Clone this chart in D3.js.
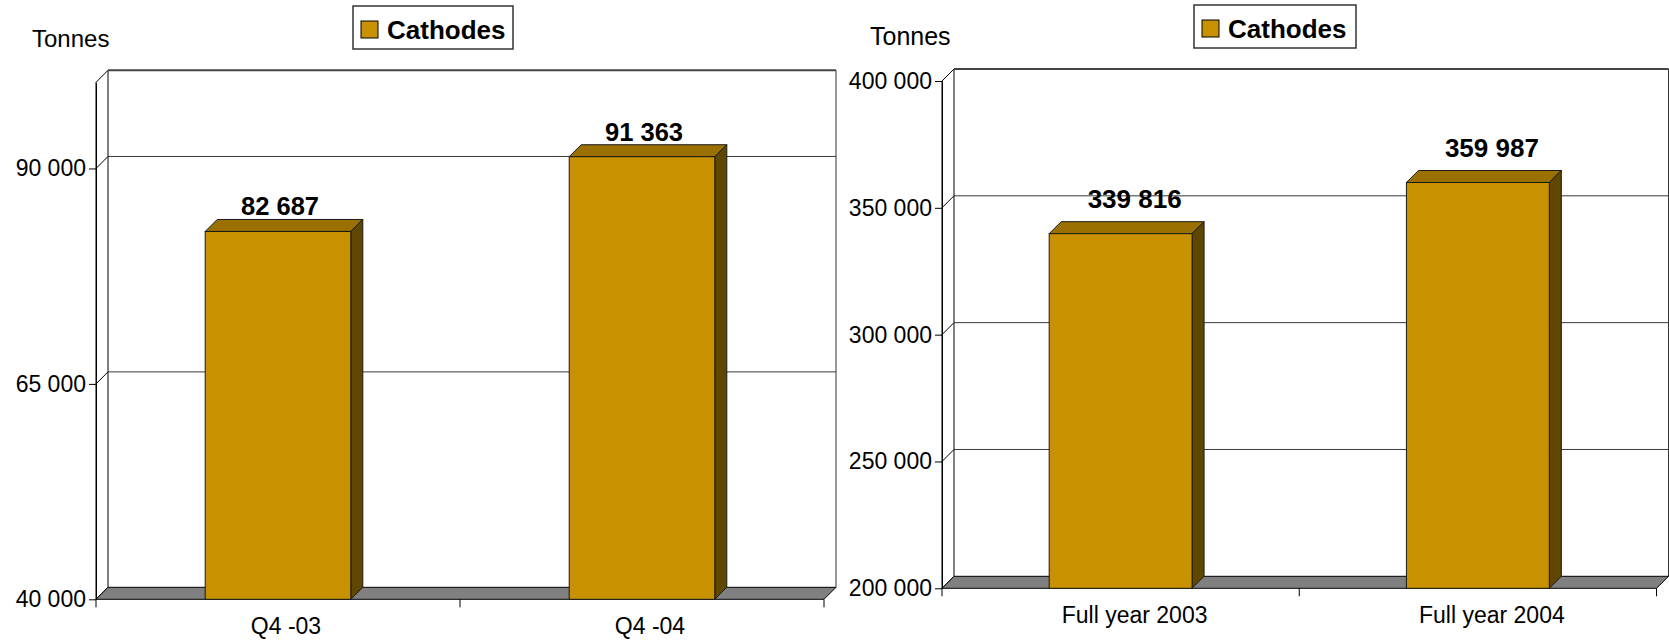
<!DOCTYPE html>
<html>
<head>
<meta charset="utf-8">
<script src="https://cdn.jsdelivr.net/npm/d3@7"></script>
<style>
  body { margin: 0; background: #fff; }
  text { font-family: Arial, "Liberation Sans", sans-serif; }
</style>
</head>
<body>
<div id="chart"></div>
<script>
// Data
const quarterCategories = ["Q4 -03", "Q4 -04"];
const quarterValues = [82687, 91363];
const quarterTicks = [40000, 65000, 90000];

const yearCategories = ["Full year 2003", "Full year 2004"];
const yearValues = [339816, 359987];
const yearTicks = [200000, 250000, 300000, 350000, 400000];

const seriesName = "Cathodes";
const unitLabel = "Tonnes";

const width = 1669, height = 641;

// colours for the 3D bar faces
const frontColor = "#c89100";
const topColor = "#9a7000";
const sideColor = "#5f4700";
const floorColor = "#808080";

// space as thousands separator, e.g. 82 687
const fmt = d3.formatLocale({ decimal: ".", thousands: " ", grouping: [3], currency: ["", ""] }).format(",");

const svg = d3.select("#chart")
    .append("svg")
    .attr("width", width)
    .attr("height", height);

function draw3dBarChart({ categories, values, ticks, domain, x0, x1, yTop, yBottom,
                          depth = 12, labelShift, valueShift, valueGap, valueFont,
                          unitPos, unitFont, legend }) {
    const dx = depth, dy = depth;

    const x = d3.scaleBand().domain(categories).range([x0, x1])
        .paddingInner(0.6).paddingOuter(0.3);
    const y = d3.scaleLinear().domain(domain).range([yBottom, yTop]);
    const step = x.step();

    const g = svg.append("g");

    // back wall
    g.append("rect")
        .attr("x", x0 + dx).attr("y", yTop - dy)
        .attr("width", x1 - x0).attr("height", yBottom - yTop)
        .attr("fill", "#fff").attr("stroke", "none");
    g.append("line")
        .attr("x1", x1 + dx).attr("x2", x1 + dx)
        .attr("y1", yTop - dy).attr("y2", yBottom - dy)
        .attr("stroke", "#333").attr("stroke-width", 1);

    // side wall
    g.append("path")
        .attr("d", `M${x0},${yTop}L${x0 + dx},${yTop - dy}L${x0 + dx},${yBottom - dy}L${x0},${yBottom}Z`)
        .attr("fill", "#fff").attr("stroke", "#000").attr("stroke-width", 1);

    // gridlines on the back wall + diagonals on the side wall
    ticks.filter(t => t !== domain[0]).forEach(t => {
        g.append("line")
            .attr("x1", x0 + dx).attr("x2", x1 + dx)
            .attr("y1", y(t) - dy).attr("y2", y(t) - dy)
            .attr("stroke", "#3a3a3a").attr("stroke-width", 1);
        g.append("line")
            .attr("x1", x0).attr("x2", x0 + dx)
            .attr("y1", y(t)).attr("y2", y(t) - dy)
            .attr("stroke", "#000").attr("stroke-width", 1);
    });

    // top edge of the back wall
    g.append("line")
        .attr("x1", x0 + dx).attr("x2", x1 + dx)
        .attr("y1", yTop - dy).attr("y2", yTop - dy)
        .attr("stroke", "#444").attr("stroke-width", 2);

    // floor
    g.append("path")
        .attr("d", `M${x0},${yBottom}L${x1},${yBottom}L${x1 + dx},${yBottom - dy}L${x0 + dx},${yBottom - dy}Z`)
        .attr("fill", floorColor).attr("stroke", "#000").attr("stroke-width", 1);

    // bars
    const bars = g.selectAll(".bar")
        .data(categories.map((c, i) => ({ c, v: values[i] })))
        .join("g").attr("class", "bar");

    bars.append("path") // top face
        .attr("d", d => {
            const bx = x(d.c), bw = x.bandwidth(), by = y(d.v);
            return `M${bx},${by}L${bx + dx},${by - dy}L${bx + bw + dx},${by - dy}L${bx + bw},${by}Z`;
        })
        .attr("fill", topColor).attr("stroke", "#1a1a1a").attr("stroke-width", 1);

    bars.append("path") // side face
        .attr("d", d => {
            const bx = x(d.c) + x.bandwidth(), by = y(d.v);
            return `M${bx},${by}L${bx + dx},${by - dy}L${bx + dx},${yBottom - dy}L${bx},${yBottom}Z`;
        })
        .attr("fill", sideColor).attr("stroke", "#1a1a1a").attr("stroke-width", 1);

    bars.append("rect") // front face
        .attr("x", d => x(d.c))
        .attr("y", d => y(d.v))
        .attr("width", x.bandwidth())
        .attr("height", d => yBottom - y(d.v))
        .attr("fill", frontColor).attr("stroke", "#1a1a1a").attr("stroke-width", 1);

    bars.append("text") // value labels
        .attr("x", d => x(d.c) + x.bandwidth() / 2 + valueShift)
        .attr("y", d => y(d.v) - dy - valueGap)
        .attr("text-anchor", "middle")
        .style("font-size", valueFont + "px")
        .style("font-weight", "bold")
        .text(d => fmt(d.v));

    // y axis
    const yAxis = d3.axisLeft(y)
        .tickValues(ticks)
        .tickSize(7)
        .tickSizeOuter(0)
        .tickPadding(3)
        .tickFormat(fmt);

    const ya = g.append("g")
        .attr("transform", `translate(${x0},0)`)
        .call(yAxis);
    ya.select(".domain").attr("stroke", "#000");
    ya.selectAll(".tick line").attr("stroke", "#000");
    ya.selectAll(".tick text")
        .style("font-size", "23px")
        .style("font-family", "Arial, 'Liberation Sans', sans-serif")
        .attr("fill", "#000");

    // x axis: ticks on the category boundaries
    d3.range(categories.length + 1).forEach(i => {
        g.append("line")
            .attr("x1", x0 + i * step).attr("x2", x0 + i * step)
            .attr("y1", yBottom).attr("y2", yBottom + 8)
            .attr("stroke", "#000").attr("stroke-width", 1);
    });
    g.selectAll(".xlabel")
        .data(categories)
        .join("text")
        .attr("class", "xlabel")
        .attr("x", d => x(d) + x.bandwidth() / 2 + labelShift)
        .attr("y", yBottom + 35)
        .attr("text-anchor", "middle")
        .style("font-size", "23px")
        .text(d => d);

    // unit label
    g.append("text")
        .attr("x", unitPos[0]).attr("y", unitPos[1])
        .style("font-size", unitFont + "px")
        .text(unitLabel);

    // legend
    const lg = g.append("g").attr("transform", `translate(${legend.x},${legend.y})`);
    lg.append("rect")
        .attr("width", legend.w).attr("height", legend.h)
        .attr("fill", "#fff").attr("stroke", "#333").attr("stroke-width", 1.5);
    lg.append("rect")
        .attr("x", 8).attr("y", 15)
        .attr("width", 17).attr("height", 17)
        .attr("fill", frontColor).attr("stroke", "#000").attr("stroke-width", 1);
    lg.append("text")
        .attr("x", 34).attr("y", 33)
        .style("font-size", "26px")
        .style("font-weight", "bold")
        .text(seriesName);
}

draw3dBarChart({
    categories: quarterCategories,
    values: quarterValues,
    ticks: quarterTicks,
    domain: [40000, 100000],
    x0: 96, x1: 824, yTop: 82.3, yBottom: 599.3,
    labelShift: 8, valueShift: 2, valueGap: 4, valueFont: 25.5,
    unitPos: [32, 47], unitFont: 24,
    legend: { x: 353, y: 6, w: 160, h: 43 }
});

draw3dBarChart({
    categories: yearCategories,
    values: yearValues,
    ticks: yearTicks,
    domain: [200000, 400000],
    x0: 942, x1: 1656.5, yTop: 81, yBottom: 588.3,
    labelShift: 14, valueShift: 14, valueGap: 13.5, valueFont: 26,
    unitPos: [870, 45], unitFont: 25,
    legend: { x: 1194, y: 5, w: 162, h: 43 }
});
</script>
</body>
</html>
